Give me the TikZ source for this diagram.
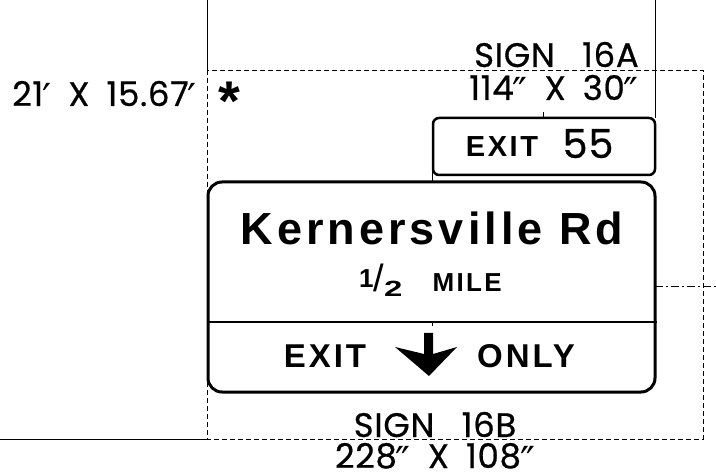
\documentclass[tikz,border=0pt]{standalone}
\usepackage{fontspec}
\setmainfont{Poppins}
\newfontfamily\dimfont[FakeBold=0.6,LetterSpace=2]{Poppins}
\newfontfamily\hwyfont[LetterSpace=9]{Liberation Sans}
\newfontfamily\plainhwy{Liberation Sans}
\newfontfamily\primefont{DejaVu Sans}
\usetikzlibrary{positioning}
\tikzset{panel/.style={draw,line width=3pt,rounded corners=14pt,inner sep=0pt},
  tabpanel/.style={draw,line width=2.5pt,rounded corners=6pt,inner sep=0pt},
  dimtext/.style={inner sep=0pt,font=\dimfont\fontsize{34}{34}\selectfont},
  legend/.style={inner sep=0pt},
  guide/.style={line width=0.9pt,dash pattern=on 5pt off 3pt}}
\newcommand{\pr}{\kern-1pt\smash{\raisebox{-7pt}{\primefont\fontsize{40}{40}\selectfont\char"2032}}}
\newcommand{\dpr}{\kern-1pt\smash{\raisebox{-7pt}{\primefont\fontsize{40}{40}\selectfont\char"2033}}}
\newcommand{\gap}{\hspace{0.5em}}
\newcommand{\widegap}{\hspace{0.8em}}

\begin{document}
\begin{tikzpicture}[x=1pt,y=-1pt]
\useasboundingbox (0,0) rectangle (716,476);
% guide lines
\draw[line width=0.9pt] (207,0) -- (207,70);
\draw[line width=0.9pt] (655,0) -- (655,118);
\draw[line width=0.9pt] (0,439) -- (207,439);
\draw[guide] (207,70) rectangle (703,439);
\draw[line width=0.9pt,dash pattern=on 8pt off 3pt on 2pt off 3pt] (655,286) -- (716,286);
% signs
\node[tabpanel,minimum width=222pt,minimum height=57pt] (tab) at (544,146.5) {};
\node[panel,minimum width=447pt,minimum height=210pt] (main) at (431.5,287) {};
\draw[line width=1.2pt] (main.west |- 0,322) -- (main.east |- 0,322);
\draw[line width=0.6pt] (543,112) -- (tab.north -| 543,0);
\draw[line width=0.6pt] (432,170) -- (432,182);
\draw[line width=0.6pt] (432,322) -- (432,326);
% legends
\node[legend,anchor=base,font=\hwyfont\bfseries\fontsize{29}{29}\selectfont] (exittab) at (502,157) {EXIT};
\node[legend,anchor=base,font=\dimfont\fontsize{40}{40}\selectfont] (exitnum) at (588,158) {55};
\node[legend,anchor=base,font=\hwyfont\bfseries\fontsize{45}{45}\selectfont] (dest) at (432,245) {Kernersville Rd};
\node[legend,anchor=base west,font=\plainhwy\bfseries] (dist) at (359,292)
  {\raisebox{5pt}{\fontsize{26}{26}\selectfont 1}{\mdseries\fontsize{38}{38}\selectfont/}\raisebox{-5pt}{\fontsize{22}{22}\selectfont\scalebox{1.5}[1]{2}}\hspace{30pt}{\hwyfont\bfseries\fontsize{26}{26}\selectfont MILE}};
\node[legend,anchor=base,font=\hwyfont\bfseries\fontsize{33}{33}\selectfont] (exitl) at (325,367) {EXIT};
\node[legend,anchor=base,font=\hwyfont\bfseries\fontsize{33}{33}\selectfont] (only) at (526,367) {ONLY};
\fill (424,333) -- (433,333) -- (433,354) -- (457,347) -- (429,376) -- (395,347) -- (424,354) -- cycle;
% sizes
\node[dimtext,anchor=base east] (namea) at (639,67) {SIGN\widegap16A};
\node[dimtext,anchor=base east] (sizea) at (639,100) {114\dpr\gap X\gap30\dpr};
\node[dimtext,anchor=base west] (total) at (12,106) {21\pr\gap X\gap15.67\pr};
\node[legend,anchor=base,font=\plainhwy\bfseries\fontsize{56}{56}\selectfont] (star) at (229,121) {*};
\node[dimtext,anchor=base] (nameb) at (435,437) {SIGN\widegap16B};
\node[dimtext,anchor=base] (sizeb) at (435,468) {228\dpr\gap X\gap108\dpr};
\end{tikzpicture}
\end{document}
